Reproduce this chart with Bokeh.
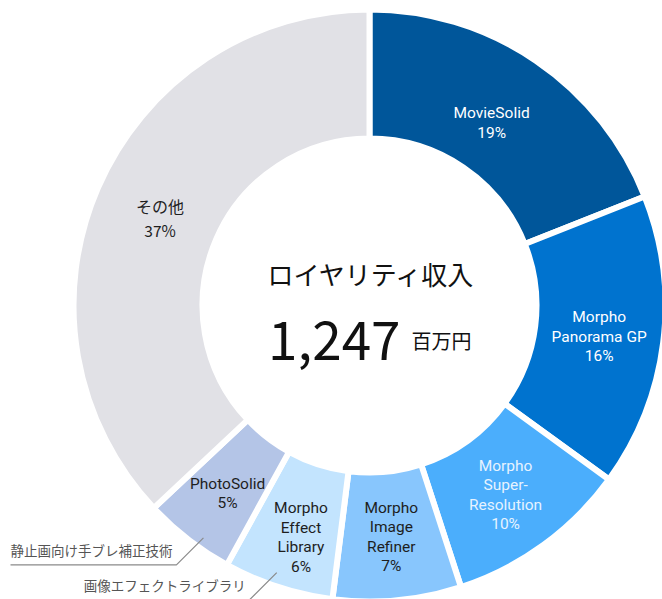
import numpy as np
from bokeh.plotting import figure
from bokeh.models import Range1d, ColumnDataSource
from bokeh.core.properties import value
from bokeh.embed import file_html
from bokeh.resources import INLINE

# ---- data ----
categories = ["MovieSolid", "Morpho\nPanorama GP", "Morpho\nSuper-\nResolution",
              "Morpho\nImage\nRefiner", "Morpho\nEffect\nLibrary", "PhotoSolid", "その他"]
shares = [19, 16, 10, 7, 6, 5, 37]
colors = ["#00569A", "#0073CF", "#4BAEFC", "#88C6FD", "#C3E4FE", "#B4C5E7", "#E1E1E6"]
label_colors = ["#FFFFFF", "#FFFFFF", "#E6F3FF", "#1E1E1E", "#1E1E1E", "#1E1E1E", "#1E1E1E"]
notes = {5: "静止画向け手ブレ補正技術", 4: "画像エフェクトライブラリ"}
total_title = "ロイヤリティ収入"
total_value = "1,247"
total_unit = "百万円"

# ---- layout ----
W, H = 662, 599
cx, cy = 369, H - 305
R_OUT, R_IN = 293, 170
GAP = 6
LAT = "Roboto"
CJK = "Noto Sans CJK JP"
# small per-label nudges (screen px: dx right, dy down)
label_nudge = [(-8, 9), (0, 2), (0, 2), (0, 1), (3, 12), (0, 5), (3, 4)]
note_nudge = {5: (8, 8), 4: (-5, -3)}

p = figure(width=W, height=H, x_range=Range1d(0, W), y_range=Range1d(0, H),
           output_backend="svg", toolbar_location=None, min_border=0)
p.axis.visible = False
p.grid.visible = False
p.outline_line_color = None
p.background_fill_color = "white"

vals = np.array(shares, dtype=float)
frac = vals / vals.sum()
cum1 = np.cumsum(frac)
cum0 = cum1 - frac
start = np.pi / 2 - 2 * np.pi * cum0
end = np.pi / 2 - 2 * np.pi * cum1
mid = np.pi / 2 - 2 * np.pi * (cum0 + cum1) / 2

src = ColumnDataSource(dict(start=start, end=end, color=colors))
p.annular_wedge(x=cx, y=cy, inner_radius=R_IN - GAP / 2, outer_radius=R_OUT + GAP / 2,
                start_angle="start", end_angle="end", direction="clock",
                fill_color="color", line_color="white", line_width=GAP, source=src)

# slice labels
r_lab = (R_IN + R_OUT) / 2
for i, (cat, v) in enumerate(zip(categories, shares)):
    lines = cat.split("\n") + [f"{v}%"]
    n = len(lines)
    is_cjk = any(ord(ch) > 0x3000 for ch in cat)
    spacing = 24 if is_cjk else 19.5
    dx, dy = label_nudge[i]
    x = cx + r_lab * np.cos(mid[i]) + dx
    y = cy + r_lab * np.sin(mid[i]) - dy
    for j, t in enumerate(lines):
        p.text(x=[x], y=[y], text=[t], y_offset=(j - (n - 1) / 2) * spacing,
               text_align="center", text_baseline="middle",
               text_font=value(CJK if is_cjk else LAT),
               text_font_size="16px" if (is_cjk and j == 0) else "15.5px",
               text_color=label_colors[i])

# leader notes
for i, note in notes.items():
    r0 = R_OUT - 9
    ndx, ndy = note_nudge[i]
    x0 = cx + r0 * np.cos(mid[i]) + ndx
    y0 = cy + r0 * np.sin(mid[i]) - ndy
    x1, y1 = x0 - 27, y0 - 27
    x2 = 10
    p.line(x=[x0, x1, x2], y=[y0, y1, y1], line_color="#8A8A8A", line_width=1.2)
    p.text(x=[x1 - 4], y=[y1 + 5], text=[note], text_align="right",
           text_baseline="bottom", text_font=value(CJK), text_font_size="13.5px",
           text_color="#555555")

# center text
p.text(x=[371], y=[H - 273], text=[total_title], text_align="center", text_baseline="middle",
       text_font=value(CJK), text_font_size="26px", text_color="#111111")
p.text(x=[400], y=[H - 340], text=[total_value], text_align="right", text_baseline="alphabetic",
       text_font=value(CJK), text_font_size="53px", text_color="#111111")
p.text(x=[411], y=[H - 340], text=[total_unit], text_align="left", text_baseline="alphabetic",
       text_font=value(CJK), text_font_size="20px", text_color="#111111")

open("out.html", "w").write(file_html(p, INLINE))
